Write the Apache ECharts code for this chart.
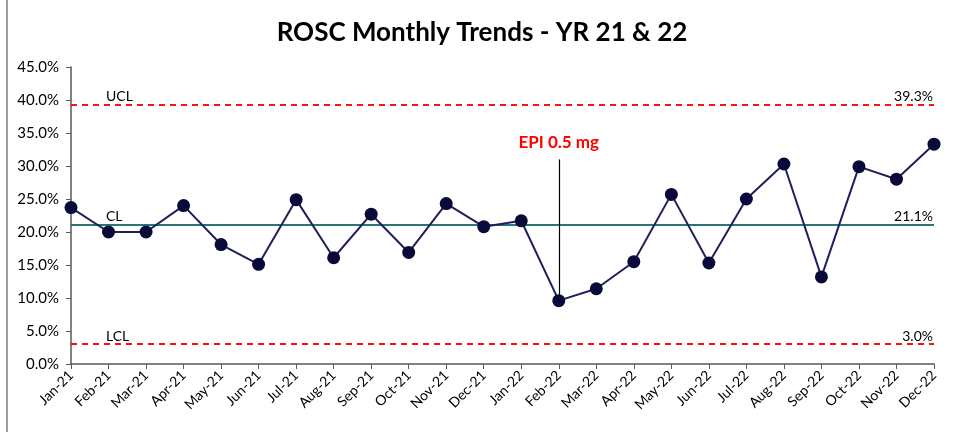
<!DOCTYPE html>
<html><head><meta charset="utf-8">
<script src="https://cdn.jsdelivr.net/npm/echarts@6/dist/echarts.min.js"></script>
<style>html,body{margin:0;padding:0;background:#fff}#c{width:964px;height:432px}</style>
</head><body><div id="c"></div>
<script>
const categories = ['Jan-21','Feb-21','Mar-21','Apr-21','May-21','Jun-21','Jul-21','Aug-21','Sep-21','Oct-21','Nov-21','Dec-21','Jan-22','Feb-22','Mar-22','Apr-22','May-22','Jun-22','Jul-22','Aug-22','Sep-22','Oct-22','Nov-22','Dec-22'];
const roscValues = [23.7,20.0,20.0,24.0,18.1,15.1,24.9,16.1,22.7,16.9,24.3,20.8,21.7,9.6,11.4,15.5,25.7,15.3,25.0,30.3,13.2,29.9,28.0,33.3];
const UCL = 39.3, CL = 21.1, LCL = 3.0;
const yTicks = {min: 0, max: 45, interval: 5};
const annotation = {text: 'EPI 0.5 mg', category: 'Feb-22', top: 31.0};

const font = 'Lato, "Open Sans", sans-serif';
const chart = echarts.init(document.getElementById('c'));
const annIdx = categories.indexOf(annotation.category);
chart.setOption({
  animation: false,
  title: {text: 'ROSC Monthly Trends - YR 21 & 22', left: 'center', top: 15,
    textStyle: {fontFamily: font, fontWeight: 'bold', fontSize: 26, color: '#000'}},
  graphic: [{type: 'line', shape: {x1: 7, y1: 0, x2: 7, y2: 432}, style: {stroke: '#7f7f7f', lineWidth: 1.5}}],
  grid: {left: 71, right: 30, top: 67, bottom: 68},
  xAxis: {type: 'category', data: categories, boundaryGap: false,
    axisLine: {lineStyle: {color: '#595959', width: 1.5}},
    axisTick: {show: true, length: 5, alignWithLabel: true, lineStyle: {color: '#595959'}},
    axisLabel: {rotate: 45, fontFamily: font, fontSize: 14, color: '#000', interval: 0, margin: 9}},
  yAxis: {type: 'value', min: yTicks.min, max: yTicks.max, interval: yTicks.interval,
    splitLine: {show: false},
    axisLine: {show: true, lineStyle: {color: '#595959', width: 1.5}},
    axisTick: {show: true, length: 5, lineStyle: {color: '#595959'}},
    axisLabel: {formatter: v => v.toFixed(1) + '%', fontFamily: font, fontSize: 15, color: '#000', margin: 12}},
  series: [{
    type: 'line', data: roscValues, symbol: 'circle', symbolSize: 13,
    lineStyle: {color: '#1f1f5c', width: 2}, itemStyle: {color: '#0a0a3a'},
    z: 5,
    markLine: {
      symbol: 'none', silent: true,
      label: {fontFamily: font, fontSize: 14, color: '#000'},
      data: [
        {yAxis: UCL, lineStyle: {color: '#ff0000', type: [6, 5], width: 1.5}, label: {formatter: 'UCL', position: 'insideStartTop', padding: [0, 0, 0, 34], distance: 1}},
        {yAxis: UCL, lineStyle: {color: '#ff0000', type: [6, 5], width: 1.5}, label: {formatter: UCL.toFixed(1) + '%', position: 'insideEndTop', distance: 1}},
        {yAxis: CL, lineStyle: {color: '#1b6e6e', type: 'solid', width: 1.5}, label: {formatter: 'CL', position: 'insideStartTop', padding: [0, 0, 0, 34], distance: 1}},
        {yAxis: CL, lineStyle: {color: '#1b6e6e', type: 'solid', width: 1.5}, label: {formatter: CL.toFixed(1) + '%', position: 'insideEndTop', distance: 1}},
        {yAxis: LCL, lineStyle: {color: '#ff0000', type: [6, 5], width: 1.5}, label: {formatter: 'LCL', position: 'insideStartTop', padding: [0, 0, 0, 34], distance: 1}},
        {yAxis: LCL, lineStyle: {color: '#ff0000', type: [6, 5], width: 1.5}, label: {formatter: LCL.toFixed(1) + '%', position: 'insideEndTop', distance: 1}},
        [{coord: [annIdx, annotation.top], lineStyle: {color: '#000', type: 'solid', width: 1.2}, label: {show: true, position: 'start', formatter: annotation.text, color: '#ff0000', fontWeight: 'bold', fontSize: 17, distance: 8}},
         {coord: [annIdx, roscValues[annIdx]]}]
      ]
    }
  }]
});
</script></body></html>
